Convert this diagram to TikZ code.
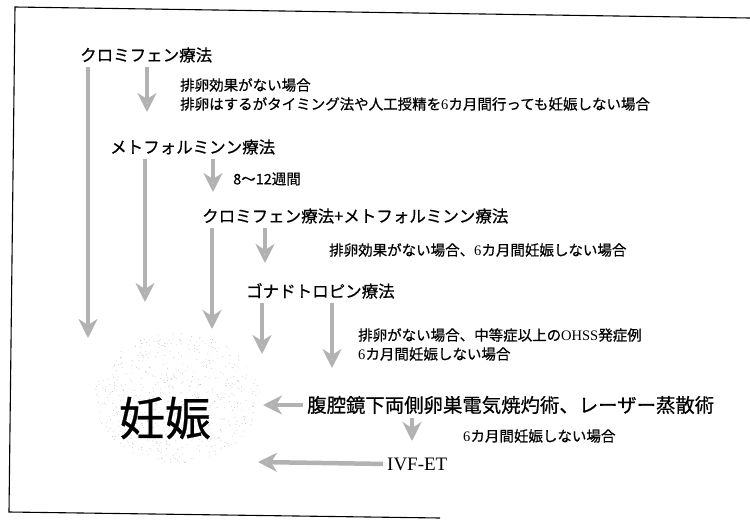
\documentclass[tikz,border=0pt]{standalone}
\usepackage{fontspec}
\setmainfont{Noto Sans CJK JP}[FakeBold=0.6]
\newfontfamily\serf{Liberation Serif}
\usetikzlibrary{arrows.meta,calc}
\begin{document}
\begin{tikzpicture}[x=1pt,y=-1pt,
  title/.style={anchor=west,inner sep=0pt,font=\fontsize{16.5}{18}\selectfont},
  note/.style={anchor=west,inner sep=0pt,font=\fontsize{14.5}{16}\selectfont},
  garrow/.style={line width=4.5pt,draw=gray!60,shorten <=4pt,
    -{Stealth[width=19pt,length=19pt,inset=6pt,fill=gray!45]}},
  frame/.style={line width=1.1pt,black}]
\useasboundingbox (0,0) rectangle (750,520);
% frame
\draw[frame] (750,18) -- (15,7) -- (9,512) -- (440,518);
% stippled cloud
\pgfmathsetseed{42}
\foreach \i in {1,...,650}{
  \pgfmathsetmacro\rr{sqrt(rnd)}
  \pgfmathsetmacro\aa{360*rnd}
  \fill[gray!50] ({177+82*\rr*cos(\aa)},{398+65*\rr*sin(\aa)}) circle (0.45pt);
}
% texts
\node[title] (t1) at (80,55) {クロミフェン療法};
\node[note] (n1a) at (180,85) {排卵効果がない場合};
\node[note] (n1b) at (180,104) {排卵はするがタイミング法や人工授精を{\serf 6}カ月間行っても妊娠しない場合};
\node[title] (t2) at (110,147) {メトフォルミンン療法};
\node[note] (n2) at (233,179) {8〜12週間};
\node[title] (t3) at (202,216) {クロミフェン療法+メトフォルミンン療法};
\node[note] (n3) at (329,250) {排卵効果がない場合、{\serf 6}カ月間妊娠しない場合};
\node[title] (t4) at (246,291) {ゴナドトロピン療法};
\node[note] (n4a) at (358,335) {排卵がない場合、中等症以上の{\serf OHSS}発症例};
\node[note] (n4b) at (358,354) {{\serf 6}カ月間妊娠しない場合};
\node[anchor=center,inner sep=0pt,font=\fontsize{46}{48}\selectfont] (preg) at (165,418) {妊娠};
\node[anchor=west,inner sep=0pt,font=\fontsize{19.4}{21}\selectfont] (lap) at (307,405) {腹腔鏡下両側卵巣電気焼灼術、レーザー蒸散術};
\node[note] (n5) at (463,436) {{\serf 6}カ月間妊娠しない場合};
\node[anchor=west,inner sep=0pt,font=\serf\fontsize{19}{21}\selectfont] (ivf) at (387,464) {IVF-ET};
% arrow end points
\coordinate (e1) at (88,338);
\coordinate (e1s) at (147,112);
\coordinate (e2) at (145,302);
\coordinate (e2s) at (213,192);
\coordinate (e3) at (212,329);
\coordinate (e3s) at (265,263);
\coordinate (e4) at (262,354);
\coordinate (e4s) at (332,368);
\coordinate (e5) at (263,405);
\coordinate (e5s) at (412,441);
\coordinate (e6) at (258,462);
% arrows
\draw[garrow] (t1.south -| e1) -- (e1);
\draw[garrow] (t1.south -| e1s) -- (e1s);
\draw[garrow] (t2.south -| e2) -- (e2);
\draw[garrow] (t2.south -| e2s) -- (e2s);
\draw[garrow] (t3.south -| e3) -- (e3);
\draw[garrow] (t3.south -| e3s) -- (e3s);
\draw[garrow] (t4.south -| e4) -- (e4);
\draw[garrow] (t4.south -| e4s) -- (e4s);
\draw[garrow] (lap.west) -- (e5);
\draw[garrow] (lap.south -| e5s) -- (e5s);
\draw[garrow] (ivf.west) -- (e6);
\end{tikzpicture}
\end{document}
